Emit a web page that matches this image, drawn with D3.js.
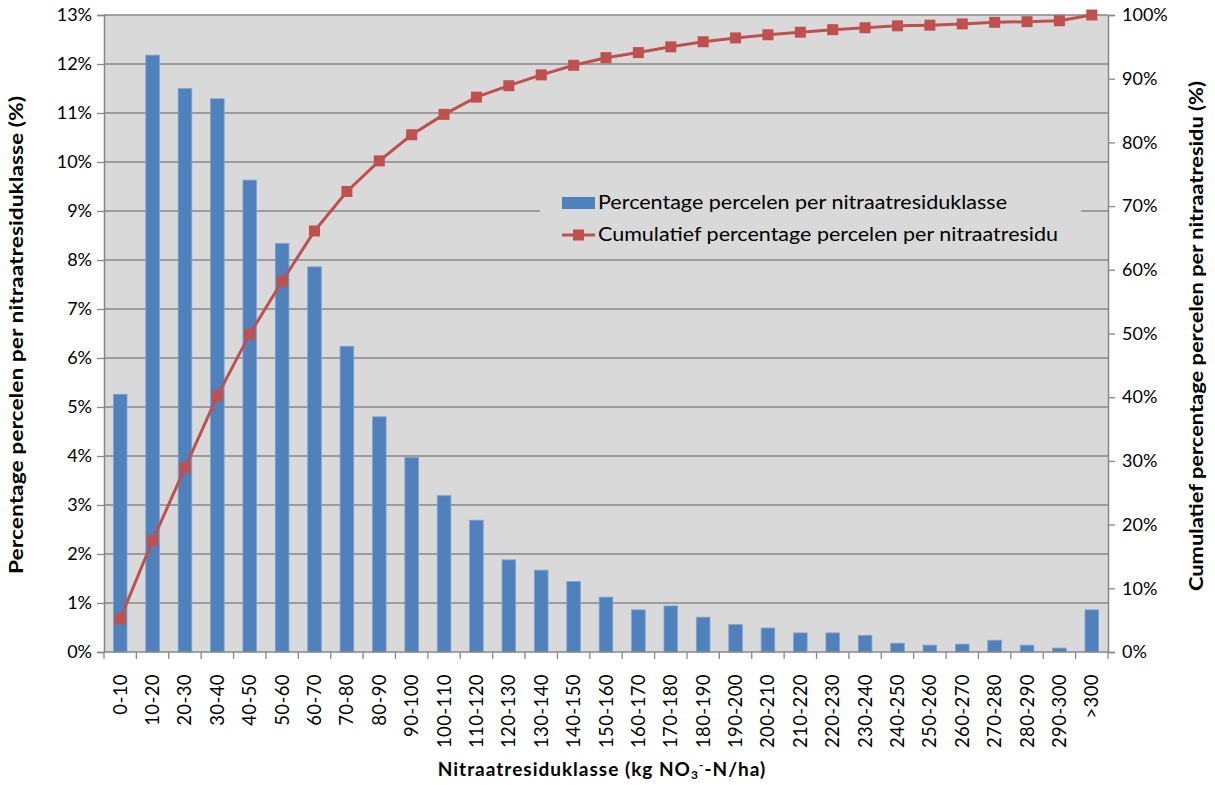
<!DOCTYPE html>
<html><head><meta charset="utf-8">
<script src="https://cdn.jsdelivr.net/npm/d3@7"></script>
<style>body{margin:0;background:#fff}svg{display:block}text{font-family:Lato,"Open Sans",sans-serif;fill:#000}</style>
</head><body><svg id="c" width="1215" height="785"></svg>
<script>
const categories = ["0-10","10-20","20-30","30-40","40-50","50-60","60-70","70-80","80-90","90-100","100-110","110-120","120-130","130-140","140-150","150-160","160-170","170-180","180-190","190-200","200-210","210-220","220-230","230-240","240-250","250-260","260-270","270-280","280-290","290-300",">300"];
const percentage = [5.26,12.18,11.5,11.29,9.63,8.34,7.86,6.24,4.80,3.97,3.19,2.69,1.88,1.67,1.44,1.12,0.86,0.94,0.71,0.56,0.49,0.39,0.39,0.34,0.18,0.14,0.16,0.24,0.14,0.08,0.86];
const cumulative = [5.2,17.5,28.9,40.2,49.9,58.2,66.1,72.3,77.1,81.2,84.4,87.1,88.9,90.6,92.1,93.3,94.1,95.0,95.8,96.4,96.9,97.3,97.7,98.0,98.3,98.4,98.6,98.85,98.95,99.1,100];
const leftTicks = d3.range(0,14,1);
const rightTicks = d3.range(0,101,10);
const seriesNames = ["Percentage percelen per nitraatresiduklasse","Cumulatief percentage percelen per nitraatresidu"];

const svg = d3.select("#c");
const L=104, R=1108, T=15, B=652;
const x = d3.scaleBand().domain(categories).range([L,R]).paddingInner(0.58).paddingOuter(0.29);
const yL = d3.scaleLinear().domain([0,13]).range([B,T]);
const yR = d3.scaleLinear().domain([0,100]).range([B,T]);
const blue="#4F81BD", red="#C0504D", grid="#878787";

svg.append("rect").attr("x",L).attr("y",T).attr("width",R-L).attr("height",B-T).attr("fill","#D9D9D9");

// gridlines
svg.append("g").selectAll("line").data(leftTicks.filter(d=>d>0)).join("line")
  .attr("x1",L).attr("x2",R).attr("y1",d=>yL(d)).attr("y2",d=>yL(d))
  .attr("stroke",grid).attr("stroke-width",1.3);

// bars
svg.append("g").selectAll("rect").data(percentage).join("rect")
  .attr("x",(d,i)=>x(categories[i])).attr("width",x.bandwidth())
  .attr("y",d=>yL(d)).attr("height",d=>B-yL(d))
  .attr("fill",blue).attr("stroke","#7fa3cf").attr("stroke-width",0.8);

// left axis
const axL = d3.axisLeft(yL).tickValues(leftTicks).tickSize(7).tickFormat(d=>d+"%");
const gL = svg.append("g").attr("transform",`translate(${L},0)`).call(axL);
// right axis
const axR = d3.axisRight(yR).tickValues(rightTicks).tickSize(7).tickFormat(d=>d+"%");
const gR = svg.append("g").attr("transform",`translate(${R},0)`).call(axR);
// bottom axis: ticks at category boundaries
const step = x.step();
const bounds = d3.range(categories.length+1).map(i=>L+i*step);
const gB = svg.append("g");
gB.append("line").attr("x1",L).attr("x2",R).attr("y1",B).attr("y2",B).attr("stroke",grid).attr("stroke-width",1.5);
gB.selectAll("line.t").data(bounds).join("line").attr("class","t")
  .attr("x1",d=>d).attr("x2",d=>d).attr("y1",B).attr("y2",B+7).attr("stroke",grid).attr("stroke-width",1.3);
gB.selectAll("text").data(categories).join("text")
  .attr("transform",d=>`translate(${x(d)+x.bandwidth()/2+6.5},${B+22}) rotate(-90)`)
  .attr("text-anchor","end").attr("font-size",18.5).attr("letter-spacing",0.4).text(d=>d);

[gL,gR].forEach(g=>{
  g.select(".domain").attr("stroke",grid).attr("stroke-width",1.5);
  g.selectAll(".tick line").attr("stroke",grid).attr("stroke-width",1.3);
  g.selectAll(".tick text").attr("font-size",18).attr("font-family","Lato,sans-serif").attr("fill","#000");
});
gL.selectAll(".tick text").attr("x",-12);
gR.selectAll(".tick text").attr("x",14);

// legend box (covers gridline)
const lg = svg.append("g");
lg.append("rect").attr("x",540).attr("y",186).attr("width",541).attr("height",66).attr("fill","#D9D9D9");

// cumulative line
const cx = (d,i)=>x(categories[i])+x.bandwidth()/2;
svg.append("path").datum(cumulative)
  .attr("d",d3.line().x(cx).y(d=>yR(d)))
  .attr("fill","none").attr("stroke",red).attr("stroke-width",3);
svg.append("g").selectAll("rect").data(cumulative).join("rect")
  .attr("x",(d,i)=>cx(d,i)-5.5).attr("y",d=>yR(d)-5.5).attr("width",11).attr("height",11)
  .attr("fill",red);

// legend content
lg.append("rect").attr("x",562).attr("y",197).attr("width",33).attr("height",12).attr("fill",blue);
lg.append("line").attr("x1",562).attr("x2",595).attr("y1",235).attr("y2",235).attr("stroke",red).attr("stroke-width",3);
lg.append("rect").attr("x",573).attr("y",229.5).attr("width",11).attr("height",11).attr("fill",red);
lg.append("text").attr("x",598).attr("y",209).attr("font-size",18.5).attr("textLength",409).attr("lengthAdjust","spacingAndGlyphs").text(seriesNames[0]);
lg.append("text").attr("x",598).attr("y",241).attr("font-size",18.5).attr("textLength",460).attr("lengthAdjust","spacingAndGlyphs").text(seriesNames[1]);

// axis titles
svg.append("text").attr("transform","translate(23,335) rotate(-90)").attr("text-anchor","middle")
  .attr("font-size",18).attr("font-weight","bold").attr("textLength",478).attr("lengthAdjust","spacingAndGlyphs")
  .text("Percentage percelen per nitraatresiduklasse (%)");
svg.append("text").attr("transform","translate(1203,336) rotate(-90)").attr("text-anchor","middle")
  .attr("font-size",18).attr("font-weight","bold").attr("textLength",510).attr("lengthAdjust","spacingAndGlyphs")
  .text("Cumulatief percentage percelen per nitraatresidu (%)");
const xt = svg.append("text").attr("x",602).attr("y",776).attr("text-anchor","middle").attr("font-size",19).attr("font-weight","bold").attr("letter-spacing",1);
xt.append("tspan").text("Nitraatresiduklasse (kg NO");
xt.append("tspan").attr("font-size",12).attr("dy",3).text("3");
xt.append("tspan").attr("font-size",12).attr("dy",-10).text("-");
xt.append("tspan").attr("dy",7).text("-N/ha)");
</script></body></html>
